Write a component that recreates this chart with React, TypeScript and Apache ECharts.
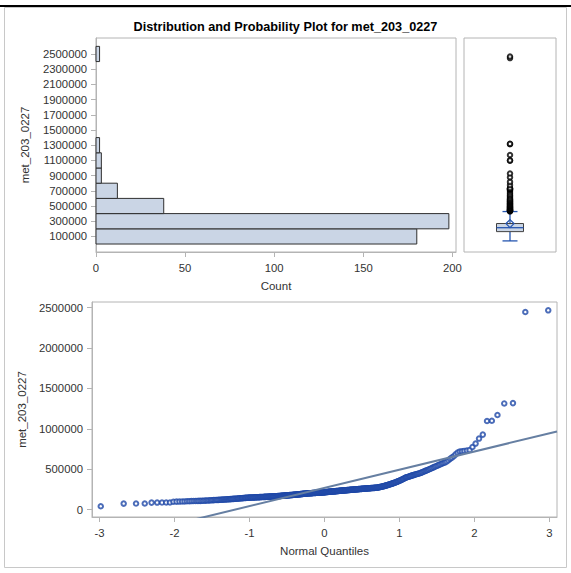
import React, { useEffect, useRef } from 'react';
import * as echarts from 'echarts';

const TITLE = 'Distribution and Probability Plot for met_203_0227';
const VAR_NAME = 'met_203_0227';
const COUNT_NAME = 'Count';
const QQ_X_NAME = 'Normal Quantiles';

const values: number[] = [
  41000, 74000, 74500, 75000, 86000, 86500, 87000, 87500, 88000, 97000,
  98000, 99000, 100000, 101000,
  103000, 104000, 105000, 106000, 106500, 107000, 107500, 108000, 109000, 110000,
  111000, 112000, 113000, 114000, 115000, 116000, 117000, 118000, 119000, 119500,
  120000, 121000, 122000, 123000, 123500, 124000,
  125000, 126000, 127000, 127500, 128500, 129500, 130000, 131000, 132000, 132500,
  133500, 134500, 135000, 136000, 137000, 137500, 138500, 139500, 140000, 141000,
  142000, 142500, 143500, 144500, 145000, 146000, 146500, 147000, 147500, 148000,
  148500, 149000, 149500, 150000, 150000, 150500, 151000, 151500, 151500, 152000,
  152500, 153000, 153000, 153500, 154000, 154500, 154500, 155000, 155500, 156000,
  156000, 156500, 157000, 157500, 157500, 158000, 158500, 158500, 159000, 159500,
  160000, 160000, 160500, 161000, 161500, 161500, 162000, 162500, 163000, 163000,
  163500, 164000, 164500, 165000, 165500, 166000, 166500, 167000, 167500, 168000,
  168500, 169000, 169500, 170000, 170500, 171000, 171500, 172000, 172500, 173000,
  173500, 174000, 174500, 175000, 175500, 176000, 176500, 177000, 177500, 178000,
  178500, 179000, 179500, 180000, 180500, 181000, 181500, 182000, 182500, 183000,
  183500, 184000, 184500, 185000, 185500, 186000, 187000, 187500, 188000, 188500,
  189000, 189500, 190000, 191000, 191500, 192000, 192500, 193000, 194000, 194500,
  195000, 195500, 196000, 196500, 197000, 197500, 198000, 198500, 199000, 199500,
  200000, 200500, 201000, 201500, 201500, 202000, 202500, 203000, 203000, 203500,
  204000, 204500, 204500, 205000, 205500, 206000, 206000, 206500, 207000, 207500,
  207500, 208000, 208500, 209000, 209000, 209500, 210000, 210500, 210500, 211000,
  211500, 211500, 212000, 212500, 213000, 213000, 213500, 214000, 214500,
  215000, 215500, 216000, 216500, 217000, 217500, 218000, 218500, 219000, 219500,
  220000, 220500, 221000, 221500, 222000, 222500, 223000, 223500, 224000, 224500,
  225000, 225500, 226000, 226500, 227000, 227500, 228000, 228500, 229000, 229500,
  230000, 230500, 231000, 231500, 232000, 232500, 233000, 233500, 234000, 234500,
  235000, 235500, 236000, 236500, 237000, 237500, 238000, 238500, 239000, 239500,
  240000, 240500, 241000, 241500, 242000, 242500, 243000, 243500, 244000, 244500,
  245000, 245500, 246000, 246500, 247000, 247500, 248000, 248500, 249000, 249500,
  250000, 250500, 251000, 251500, 252000, 252500, 253000, 253500, 254000, 254500,
  255000, 255500, 256000, 256500,
  257000, 257500, 258000, 258500, 259000, 259500, 260000, 260500, 261000, 261500,
  262000, 262500, 263000, 263500, 264000, 264500, 265000, 265500, 266000, 266500,
  267000, 267500, 268000, 268500, 269000, 269500, 270000, 270500, 271000, 272000,
  273000, 274500, 276000, 277500, 279000, 280500, 282000, 283500, 285000, 287000,
  289000, 291000, 293000, 295000, 297000, 299000, 301000, 303500, 306000, 308500,
  311000, 313500, 316000, 318500, 321000, 324000, 327000, 330000, 333000, 336000,
  339000, 342500, 346000, 349500, 353000, 357000,
  361000, 365000, 369500, 374000, 378500, 383000, 388000, 393000, 398000,
  401000, 404000, 407000, 410000, 413500, 417000, 420500, 424000, 427000, 430000,
  433500, 437000, 440500, 443500, 447000, 450000,
  455000, 460000, 465500, 471000, 476500, 482000, 487500, 493000, 499000, 505000,
  512000, 519000, 526000, 533000, 540000,
  547000, 555000, 562000, 570000, 578000, 585000, 595000,
  610000, 628000, 643000, 660000, 684000, 705000, 718000, 722000, 726000, 731000,
  737000, 775000,
  817000, 879000, 928000, 1097000, 1100000, 1171000, 1314000, 1318000, 2446000, 2467000,
];

const binWidth = 200000;
const binCenters = [
  100000, 300000, 500000, 700000, 900000, 1100000, 1300000,
  1500000, 1700000, 1900000, 2100000, 2300000, 2500000,
];
const countTicks = [0, 50, 100, 150, 200];
const qqYTicks = [0, 500000, 1000000, 1500000, 2000000, 2500000];
const qqXTicks = [-3, -2, -1, 0, 1, 2, 3];

const FONT = "'Liberation Sans', Arial, sans-serif";
const TEXT = '#333333';
const AXIS = '#b4b4b4';
const BAR_FILL = '#cad5e5';
const BAR_LINE = '#2f2f2f';
const BOX_BLUE = '#2656b0';
const QQ_BLUE = '#1f48a8';
const FIT = '#667fa2';

function normInv(p: number): number {
  const a = [-3.969683028665376e1, 2.209460984245205e2, -2.759285104469687e2, 1.38357751867269e2, -3.066479806614716e1, 2.506628277459239];
  const b = [-5.447609879822406e1, 1.615858368580409e2, -1.556989798598866e2, 6.680131188771972e1, -1.328068155288572e1];
  const c = [-7.784894002430293e-3, -3.223964580411365e-1, -2.400758277161838, -2.549732539343734, 4.374664141464968, 2.938163982698783];
  const d = [7.784695709041462e-3, 3.224671290700398e-1, 2.445134137142996, 3.754408661907416];
  const pl = 0.02425;
  if (p < pl) {
    const q = Math.sqrt(-2 * Math.log(p));
    return (((((c[0] * q + c[1]) * q + c[2]) * q + c[3]) * q + c[4]) * q + c[5]) / ((((d[0] * q + d[1]) * q + d[2]) * q + d[3]) * q + 1);
  }
  if (p <= 1 - pl) {
    const q = p - 0.5;
    const r = q * q;
    return ((((((a[0] * r + a[1]) * r + a[2]) * r + a[3]) * r + a[4]) * r + a[5]) * q) / (((((b[0] * r + b[1]) * r + b[2]) * r + b[3]) * r + b[4]) * r + 1);
  }
  const q = Math.sqrt(-2 * Math.log(1 - p));
  return -(((((c[0] * q + c[1]) * q + c[2]) * q + c[3]) * q + c[4]) * q + c[5]) / ((((d[0] * q + d[1]) * q + d[2]) * q + d[3]) * q + 1);
}

function pctl(s: number[], p: number): number {
  const np = s.length * p;
  const j = Math.floor(np);
  if (np - j === 0) return (s[j - 1] + s[j]) / 2;
  return s[j];
}

function buildOption() {
  const s = [...values].sort((x, y) => x - y);
  const n = s.length;
  const mean = s.reduce((t, v) => t + v, 0) / n;
  const sd = Math.sqrt(s.reduce((t, v) => t + (v - mean) * (v - mean), 0) / (n - 1));
  const q1 = pctl(s, 0.25);
  const med = pctl(s, 0.5);
  const q3 = pctl(s, 0.75);
  const iqr = q3 - q1;
  const hiFence = q3 + 1.5 * iqr;
  const loFence = q1 - 1.5 * iqr;
  const inside = s.filter((v) => v >= loFence && v <= hiFence);
  const wLo = inside[0];
  const wHi = inside[inside.length - 1];
  const outliers = s.filter((v) => v < loFence || v > hiFence);

  const bins = binCenters.map((c) => {
    const lo = c - binWidth / 2;
    const hi = c + binWidth / 2;
    const cnt = s.filter((v) => v >= lo && v < hi).length;
    return [lo, hi, cnt];
  });

  const qqData = s.map((v, i) => [normInv((i + 1 - 0.375) / (n + 0.25)), v]);
  const lineX = [-3.1, 3.1];
  const lineData = lineX.map((x) => [x, mean + sd * x]);

  const labelStyle = { color: TEXT, fontFamily: FONT, fontSize: 11.3 };
  const nameStyle = { color: TEXT, fontFamily: FONT, fontSize: 11.5 };
  const axisLine = { show: true, onZero: false, lineStyle: { color: AXIS, width: 1 } };
  const axisTick = (vals: number[]) => ({ show: true, length: 5, lineStyle: { color: AXIS }, customValues: vals });

  return {
    animation: false,
    backgroundColor: '#ffffff',
    title: {
      text: TITLE,
      left: 'center',
      top: 15,
      textStyle: { fontFamily: FONT, fontSize: 12.7, fontWeight: 'bold', color: '#000000' },
    },
    graphic: [
      { type: 'rect', shape: { x: 0, y: 5, width: 571, height: 2 }, style: { fill: '#000000' }, silent: true },
      { type: 'rect', shape: { x: 4.5, y: 7.5, width: 562, height: 560 }, style: { fill: 'none', stroke: '#c8c8c8', lineWidth: 1 }, silent: true },
    ],
    grid: [
      { left: 96, top: 38, width: 360, height: 214, show: true, borderColor: AXIS, borderWidth: 1 },
      { left: 464, top: 38, width: 92, height: 214, show: true, borderColor: AXIS, borderWidth: 1 },
      { left: 92, top: 302, width: 465, height: 215, show: true, borderColor: AXIS, borderWidth: 1 },
    ],
    xAxis: [
      {
        gridIndex: 0, type: 'value', min: 0, max: 202,
        name: COUNT_NAME, nameLocation: 'middle', nameGap: 28, nameTextStyle: nameStyle,
        axisLine, axisTick: axisTick(countTicks), splitLine: { show: false },
        axisLabel: { ...labelStyle, margin: 10, customValues: countTicks, formatter: (v: number) => String(v) },
      },
      { gridIndex: 1, type: 'value', min: 0, max: 1, show: false, splitLine: { show: false } },
      {
        gridIndex: 2, type: 'value', min: -3.1, max: 3.1,
        name: QQ_X_NAME, nameLocation: 'middle', nameGap: 28, nameTextStyle: nameStyle,
        axisLine, axisTick: axisTick(qqXTicks), splitLine: { show: false },
        axisLabel: { ...labelStyle, margin: 10, customValues: qqXTicks, formatter: (v: number) => String(v) },
      },
    ],
    yAxis: [
      {
        gridIndex: 0, type: 'value', min: -105000, max: 2710000,
        name: VAR_NAME, nameLocation: 'middle', nameGap: 65, nameTextStyle: nameStyle,
        axisLine, axisTick: axisTick(binCenters), splitLine: { show: false },
        axisLabel: { ...labelStyle, margin: 9, customValues: binCenters, formatter: (v: number) => String(v) },
      },
      { gridIndex: 1, type: 'value', min: -105000, max: 2710000, show: false, splitLine: { show: false } },
      {
        gridIndex: 2, type: 'value', min: -92000, max: 2570000,
        name: VAR_NAME, nameLocation: 'middle', nameGap: 64, nameTextStyle: nameStyle,
        axisLine, axisTick: axisTick(qqYTicks), splitLine: { show: false },
        axisLabel: { ...labelStyle, margin: 9, customValues: qqYTicks, formatter: (v: number) => String(v) },
      },
    ],
    series: [
      {
        type: 'custom',
        xAxisIndex: 0,
        yAxisIndex: 0,
        data: bins,
        encode: { x: 2, y: [0, 1] },
        renderItem: (params: any, api: any) => {
          const lo = api.value(0);
          const hi = api.value(1);
          const cnt = api.value(2);
          if (!cnt) return null;
          const p0 = api.coord([0, lo]);
          const p1 = api.coord([cnt, hi]);
          return {
            type: 'rect',
            shape: { x: p0[0], y: p1[1], width: p1[0] - p0[0], height: p0[1] - p1[1] },
            style: { fill: BAR_FILL, stroke: BAR_LINE, lineWidth: 1 },
          };
        },
      },
      {
        type: 'custom',
        xAxisIndex: 1,
        yAxisIndex: 1,
        data: [[0.5, med]],
        encode: { x: 0, y: 1 },
        renderItem: (params: any, api: any) => {
          const cx = api.coord([0.5, med])[0];
          const y = (v: number) => api.coord([0.5, v])[1];
          const hw = 13.5;
          const cw = 7.5;
          const dm = 4;
          const line = (x1: number, y1: number, x2: number, y2: number) => ({
            type: 'line', shape: { x1, y1, x2, y2 }, style: { stroke: BOX_BLUE, lineWidth: 1.3 },
          });
          const ym = y(mean);
          return {
            type: 'group',
            children: [
              line(cx, y(q3), cx, y(wHi)),
              line(cx, y(q1), cx, y(wLo)),
              line(cx - cw, y(wHi), cx + cw, y(wHi)),
              line(cx - cw, y(wLo), cx + cw, y(wLo)),
              {
                type: 'rect',
                shape: { x: cx - hw, y: y(q3), width: 2 * hw, height: y(q1) - y(q3) },
                style: { fill: BAR_FILL, stroke: '#404040', lineWidth: 1 },
              },
              line(cx - hw, y(med), cx + hw, y(med)),
              {
                type: 'polygon',
                shape: { points: [[cx, ym - dm], [cx + dm, ym], [cx, ym + dm], [cx - dm, ym]] },
                style: { fill: 'none', stroke: BOX_BLUE, lineWidth: 1.3 },
              },
            ],
          };
        },
      },
      {
        type: 'scatter',
        xAxisIndex: 1,
        yAxisIndex: 1,
        data: outliers.map((v) => [0.5, v]),
        symbol: 'emptyCircle',
        symbolSize: 4.5,
        itemStyle: { color: '#000000', borderColor: '#000000', borderWidth: 0.9 },
        z: 5,
      },
      {
        type: 'scatter',
        xAxisIndex: 2,
        yAxisIndex: 2,
        data: qqData,
        symbol: 'emptyCircle',
        symbolSize: 4.5,
        itemStyle: { color: QQ_BLUE, borderColor: QQ_BLUE, borderWidth: 0.9 },
        z: 3,
      },
      {
        type: 'line',
        xAxisIndex: 2,
        yAxisIndex: 2,
        data: lineData,
        symbol: 'none',
        clip: true,
        lineStyle: { color: FIT, width: 2 },
        z: 4,
      },
    ],
  };
}

export default function App() {
  const ref = useRef<HTMLDivElement>(null);
  useEffect(() => {
    if (!ref.current) return;
    const chart = echarts.init(ref.current, undefined, { renderer: 'svg' });
    chart.setOption(buildOption() as any);
    return () => chart.dispose();
  }, []);
  return (
    <div
      ref={ref}
      style={{ position: 'fixed', left: 0, top: 0, width: 571, height: 573, background: '#ffffff' }}
    />
  );
}
